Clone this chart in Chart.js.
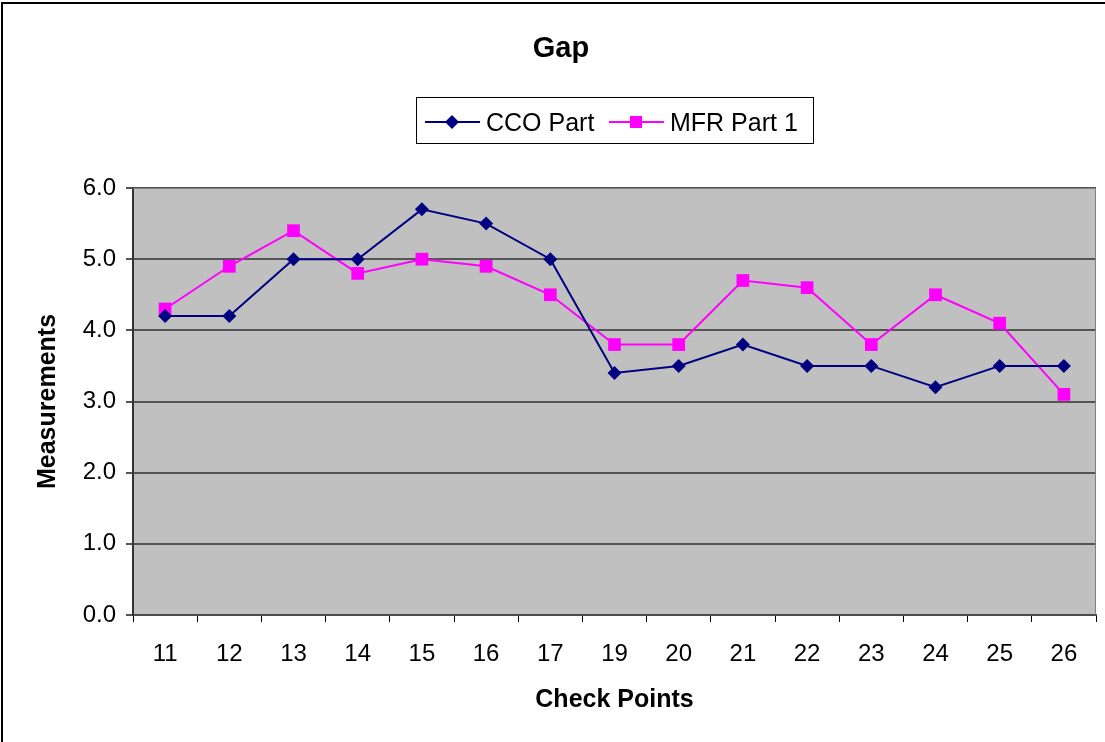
<!DOCTYPE html>
<html>
<head>
<meta charset="utf-8">
<script src="https://cdn.jsdelivr.net/npm/chart.js@4"></script>
<style>
    html, body { margin: 0; padding: 0; background: #fff; }
    #wrap { width: 1105px; height: 742px; position: relative; }
</style>
</head>
<body>
<div id="wrap"><canvas id="gapChart" width="1105" height="742"></canvas></div>
<script>
const checkPoints = ['11', '12', '13', '14', '15', '16', '17', '19', '20', '21', '22', '23', '24', '25', '26'];
const ccoPart = [4.2, 4.2, 5.0, 5.0, 5.7, 5.5, 5.0, 3.4, 3.5, 3.8, 3.5, 3.5, 3.2, 3.5, 3.5];
const mfrPart1 = [4.3, 4.9, 5.4, 4.8, 5.0, 4.9, 4.5, 3.8, 3.8, 4.7, 4.6, 3.8, 4.5, 4.1, 3.1];
const yTicks = [0, 1, 2, 3, 4, 5, 6];

const FONT = 'Arial, "Liberation Sans", sans-serif';

// grey plot area, frame, page border, title and boxed legend
const excelLook = {
    id: 'excelLook',
    beforeDraw(chart) {
        const { ctx, chartArea: a } = chart;
        ctx.save();
        ctx.fillStyle = '#fff';
        ctx.fillRect(0, 0, chart.width, chart.height);
        ctx.fillStyle = '#C0C0C0';
        ctx.fillRect(a.left, a.top, a.right - a.left, a.bottom - a.top);
        ctx.restore();
    },
    afterDraw(chart) {
        const { ctx, chartArea: a } = chart;
        ctx.save();
        // plot frame top/right
        ctx.strokeStyle = '#808080';
        ctx.lineWidth = 1;
        ctx.beginPath();
        ctx.moveTo(a.left, a.top + 0.5);
        ctx.lineTo(a.right - 0.5, a.top + 0.5);
        ctx.lineTo(a.right - 0.5, a.bottom);
        ctx.stroke();

        // outer border (top + left)
        ctx.strokeStyle = '#000';
        ctx.lineWidth = 2;
        ctx.beginPath();
        ctx.moveTo(2, chart.height);
        ctx.lineTo(2, 3);
        ctx.lineTo(chart.width, 3);
        ctx.stroke();

        // title
        ctx.fillStyle = '#000';
        ctx.font = 'bold 29px ' + FONT;
        ctx.textAlign = 'center';
        ctx.textBaseline = 'alphabetic';
        ctx.fillText('Gap', 561, 57);

        // legend
        const bx = 416, by = 97, bw = 397, bh = 46;
        ctx.fillStyle = '#fff';
        ctx.fillRect(bx, by, bw, bh);
        ctx.strokeStyle = '#000';
        ctx.lineWidth = 1;
        ctx.strokeRect(bx + 0.5, by + 0.5, bw, bh);
        ctx.font = '25px ' + FONT;
        ctx.textAlign = 'left';
        const cy = 122;
        const items = [
            { ds: chart.data.datasets[0], x: 425, tx: 486 },
            { ds: chart.data.datasets[1], x: 609, tx: 670 }
        ];
        items.forEach(it => {
            ctx.strokeStyle = it.ds.borderColor;
            ctx.lineWidth = 2;
            ctx.beginPath();
            ctx.moveTo(it.x, cy);
            ctx.lineTo(it.x + 55, cy);
            ctx.stroke();
            const mx = it.x + 27;
            ctx.fillStyle = it.ds.pointBackgroundColor;
            if (it.ds.pointStyle === 'rectRot') {
                ctx.beginPath();
                ctx.moveTo(mx, cy - 7);
                ctx.lineTo(mx + 7, cy);
                ctx.lineTo(mx, cy + 7);
                ctx.lineTo(mx - 7, cy);
                ctx.closePath();
                ctx.fill();
            } else {
                ctx.fillRect(mx - 6, cy - 6, 12, 12);
            }
            ctx.fillStyle = '#000';
            ctx.fillText(it.ds.label, it.tx, 131);
        });
        ctx.restore();
    }
};

const ctx = document.getElementById('gapChart').getContext('2d');
new Chart(ctx, {
    type: 'line',
    data: {
        labels: checkPoints,
        datasets: [{
            label: 'CCO Part',
            data: ccoPart,
            borderColor: '#000080',
            backgroundColor: '#000080',
            pointBackgroundColor: '#000080',
            pointBorderColor: '#000080',
            pointStyle: 'rectRot',
            pointRadius: 7,
            pointBorderWidth: 0,
            borderWidth: 2,
            tension: 0
        }, {
            label: 'MFR Part 1',
            data: mfrPart1,
            borderColor: '#FF00FF',
            backgroundColor: '#FF00FF',
            pointBackgroundColor: '#FF00FF',
            pointBorderColor: '#FF00FF',
            pointStyle: 'rect',
            pointRadius: 9,
            pointBorderWidth: 0,
            borderWidth: 2,
            tension: 0
        }]
    },
    options: {
        responsive: false,
        animation: false,
        layout: { padding: { left: 28, right: 8, top: 188, bottom: 0 } },
        plugins: {
            legend: { display: false },
            title: { display: false },
            tooltip: { enabled: false }
        },
        scales: {
            x: {
                offset: true,
                grid: {
                    offset: true,
                    drawOnChartArea: false,
                    drawTicks: true,
                    tickLength: 7,
                    color: '#000'
                },
                border: { color: '#4d4d4d', width: 2 },
                ticks: {
                    color: '#000',
                    font: { family: FONT, size: 24 },
                    padding: 18,
                    maxRotation: 0,
                    autoSkip: false
                },
                title: {
                    display: true,
                    text: 'Check Points',
                    color: '#000',
                    font: { family: FONT, size: 25, weight: 'bold' },
                    padding: { top: 10, bottom: 27 }
                },
                afterFit(scale) { scale.height = 127; }
            },
            y: {
                min: 0,
                max: 6,
                afterBuildTicks(scale) { scale.ticks = yTicks.map(v => ({ value: v })); },
                grid: {
                    color: '#555',
                    lineWidth: 2,
                    tickLength: 7,
                    tickColor: '#555'
                },
                border: { color: '#333', width: 2 },
                ticks: {
                    color: '#000',
                    font: { family: FONT, size: 24 },
                    padding: 10,
                    callback: v => Number(v).toFixed(1)
                },
                title: {
                    display: true,
                    text: 'Measurements',
                    color: '#000',
                    font: { family: FONT, size: 25, weight: 'bold' },
                    padding: { top: 5, bottom: 12 }
                },
                afterFit(scale) { scale.width = 105; }
            }
        }
    },
    plugins: [excelLook]
});
</script>
</body>
</html>
